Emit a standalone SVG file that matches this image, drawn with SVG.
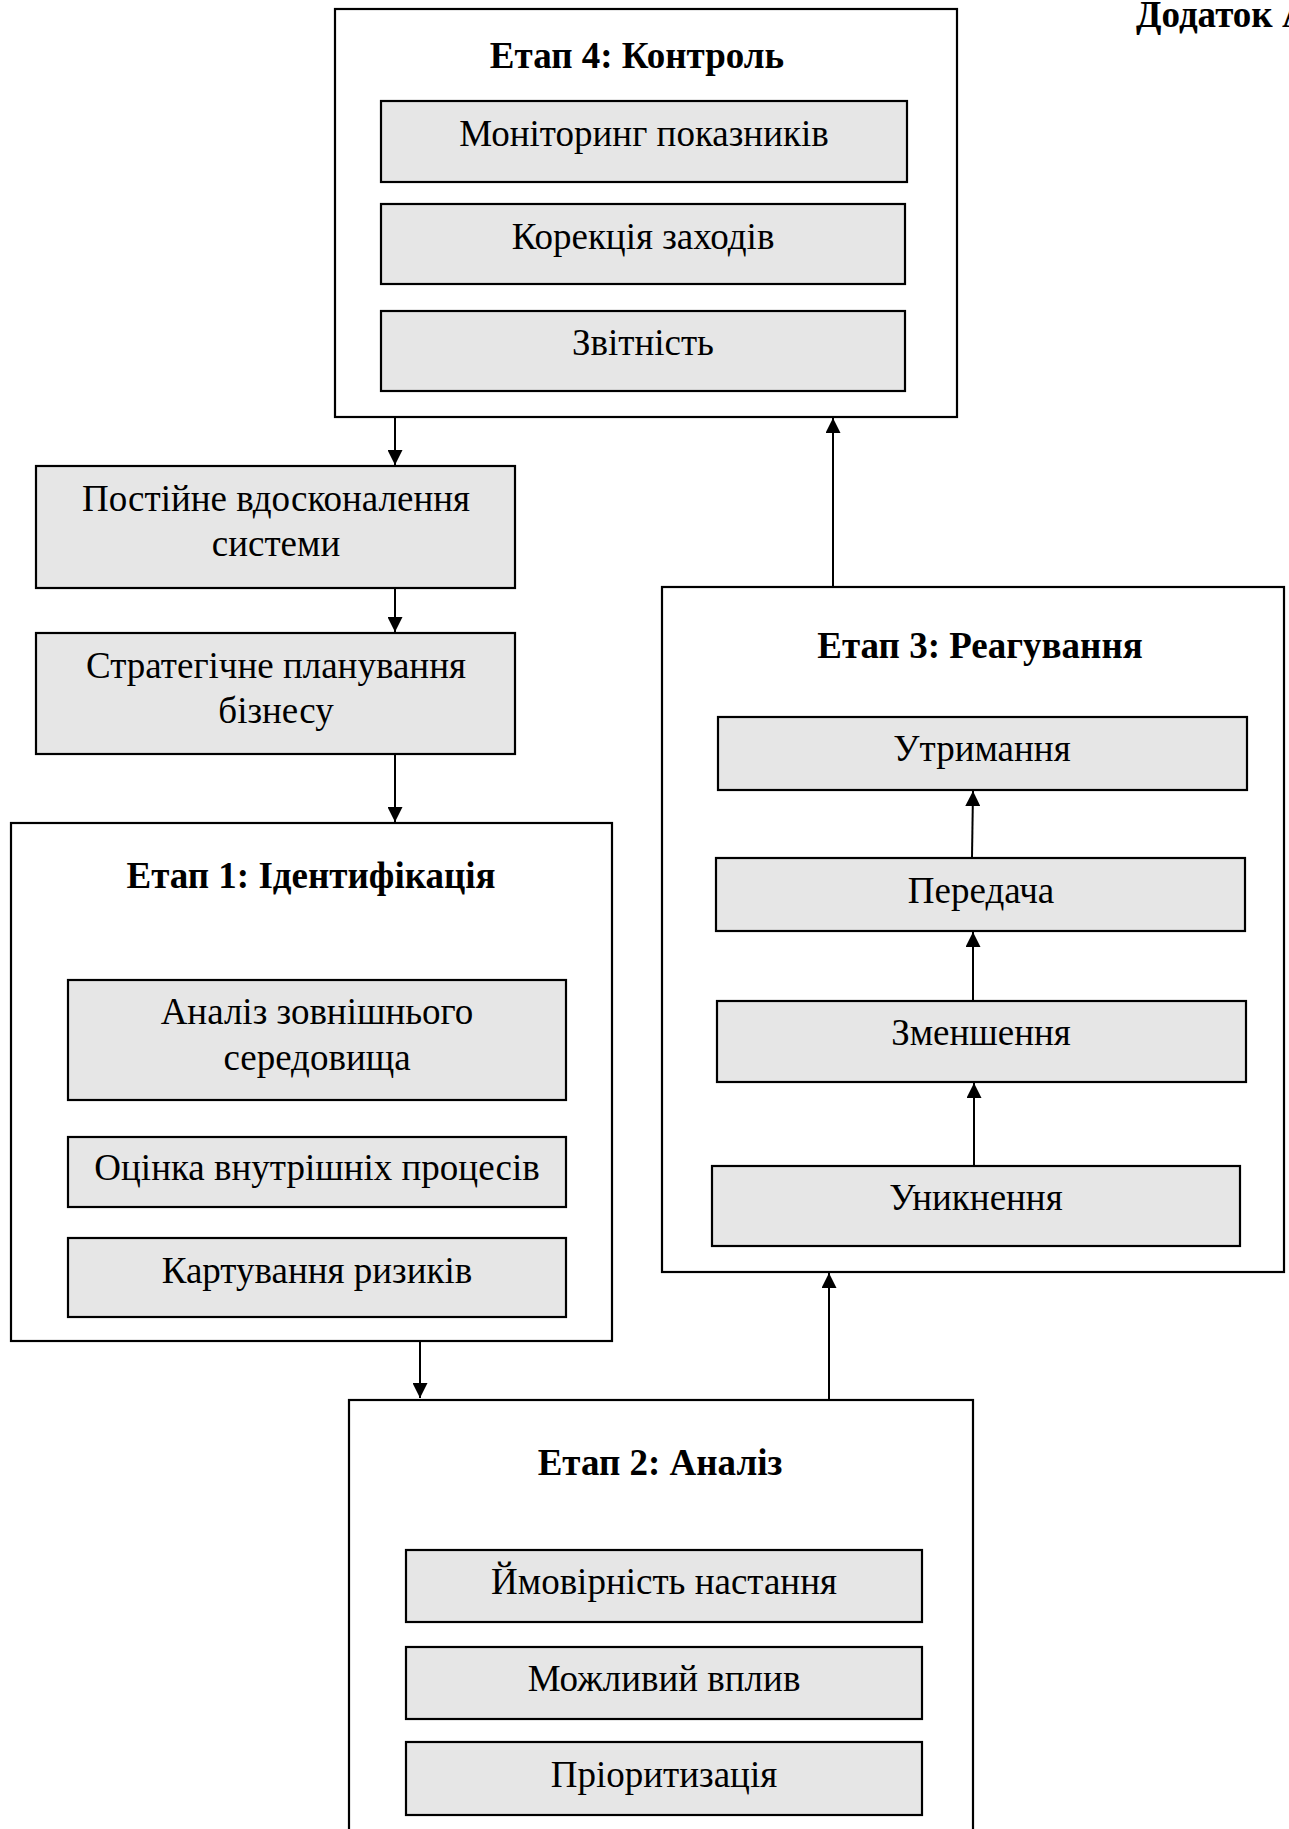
<svg xmlns="http://www.w3.org/2000/svg" width="1289" height="1829" viewBox="0 0 1289 1829">
<style>
  .stage{fill:#ffffff;stroke:#000;stroke-width:2.2}
  .item{fill:#e6e6e6;stroke:#000;stroke-width:2.2}
  .t{font-family:"Liberation Serif","Times New Roman",serif;font-size:37px;fill:#000;text-anchor:middle}
  .b{font-weight:bold}
  .c{stroke:#000;stroke-width:2;fill:none;marker-end:url(#ah)}
</style>
<defs>
  <marker id="ah" viewBox="0 0 15 15" markerWidth="15" markerHeight="15" refX="15" refY="7.5" orient="auto" markerUnits="userSpaceOnUse">
    <path d="M0,0 L15,7.5 L0,15 z" fill="#000"/>
  </marker>
</defs>
<rect width="1289" height="1829" fill="#ffffff"/>

<text id="appendix" x="1136" y="27" class="t b" style="text-anchor:start">Додаток А</text>

<g id="stage4">
  <rect class="stage" x="335" y="9" width="622" height="408"/>
  <text class="t b" x="637" y="68">Етап 4: Контроль</text>
  <g id="monitoring"><rect class="item" x="381" y="101" width="526" height="81"/><text class="t" x="644" y="146">Моніторинг показників</text></g>
  <g id="correction"><rect class="item" x="381" y="204" width="524" height="80"/><text class="t" x="643" y="249">Корекція заходів</text></g>
  <g id="reporting"><rect class="item" x="381" y="311" width="524" height="80"/><text class="t" x="643" y="355">Звітність</text></g>
</g>

<g id="improvement"><rect class="item" x="36" y="466" width="479" height="122"/><text class="t" x="276" y="511">Постійне вдосконалення</text><text class="t" x="276" y="556">системи</text></g>
<g id="planning"><rect class="item" x="36" y="633" width="479" height="121"/><text class="t" x="276" y="678">Стратегічне планування</text><text class="t" x="276" y="723">бізнесу</text></g>

<g id="stage1">
  <rect class="stage" x="11" y="823" width="601" height="518"/>
  <text class="t b" x="311" y="888">Етап 1: Ідентифікація</text>
  <g id="external"><rect class="item" x="68" y="980" width="498" height="120"/><text class="t" x="317" y="1024">Аналіз зовнішнього</text><text class="t" x="317" y="1070">середовища</text></g>
  <g id="internal"><rect class="item" x="68" y="1137" width="498" height="70"/><text class="t" x="317" y="1180">Оцінка внутрішніх процесів</text></g>
  <g id="mapping"><rect class="item" x="68" y="1238" width="498" height="79"/><text class="t" x="317" y="1283">Картування ризиків</text></g>
</g>

<g id="stage2">
  <rect class="stage" x="349" y="1400" width="624" height="450"/>
  <text class="t b" x="660" y="1475">Етап 2: Аналіз</text>
  <g id="probability"><rect class="item" x="406" y="1550" width="516" height="72"/><text class="t" x="664" y="1594">Ймовірність настання</text></g>
  <g id="impact"><rect class="item" x="406" y="1647" width="516" height="72"/><text class="t" x="664" y="1691">Можливий вплив</text></g>
  <g id="priority"><rect class="item" x="406" y="1742" width="516" height="73"/><text class="t" x="664" y="1787">Пріоритизація</text></g>
</g>

<g id="stage3">
  <rect class="stage" x="662" y="587" width="622" height="685"/>
  <text class="t b" x="980" y="658">Етап 3: Реагування</text>
  <g id="retention"><rect class="item" x="718" y="717" width="529" height="73"/><text class="t" x="982" y="761">Утримання</text></g>
  <g id="transfer"><rect class="item" x="716" y="858" width="529" height="73"/><text class="t" x="981" y="903">Передача</text></g>
  <g id="reduction"><rect class="item" x="717" y="1001" width="529" height="81"/><text class="t" x="981" y="1045">Зменшення</text></g>
  <g id="avoidance"><rect class="item" x="712" y="1166" width="528" height="80"/><text class="t" x="976" y="1210">Уникнення</text></g>
</g>

<g id="connectors">
  <line class="c" x1="395" y1="418" x2="395" y2="465"/>
  <line class="c" x1="395" y1="589" x2="395" y2="632"/>
  <line class="c" x1="395" y1="755" x2="395" y2="822"/>
  <line class="c" x1="420" y1="1342" x2="420" y2="1398"/>
  <line class="c" x1="829" y1="1399" x2="829" y2="1273"/>
  <line class="c" x1="833" y1="586" x2="833" y2="418"/>
  <line class="c" x1="974" y1="1165" x2="974" y2="1083"/>
  <line class="c" x1="973" y1="1000" x2="973" y2="932"/>
  <line class="c" x1="972" y1="857" x2="973" y2="791"/>
</g>
</svg>
